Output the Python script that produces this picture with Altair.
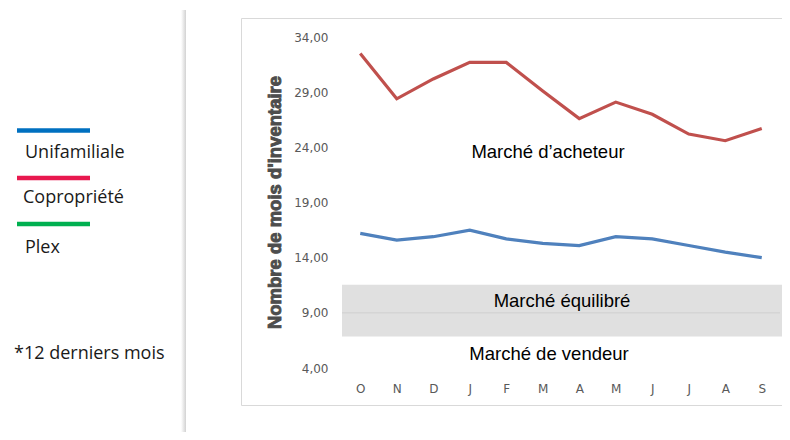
import json
import altair as alt
import pandas as pd

# ---- data ----
MONTHS = ["O", "N", "D", "J", "F", "M", "A", "M", "J", "J", "A", "S"]
UNIFAMILIALE = [16.2, 15.6, 15.9, 16.5, 15.7, 15.3, 15.1, 15.9, 15.7, 15.1, 14.5, 14.0]
COPROPRIETE = [32.5, 28.4, 30.2, 31.7, 31.7, 29.1, 26.6, 28.1, 27.0, 25.2, 24.6, 25.7]
SERIES = ["Unifamiliale", "Copropriété"]
LINE_COLORS = ["#4F81BD", "#C0504D"]
YTICKS = [4, 9, 14, 19, 24, 29, 34]
BAND = [6.85, 11.55]
ANNOTATIONS = ["Marché d’acheteur", "Marché équilibré", "Marché de vendeur"]
ANNOT_Y = [23.55, 10.1, 5.27]
LEGEND_NAMES = ["Unifamiliale", "Copropriété", "Plex"]
LEGEND_COLORS = ["#0070C0", "#E8194F", "#00B050"]
FOOTNOTE = "*12 derniers mois"
Y_TITLE = "Nombre de mois d'inventaire"

rows = []
for s, vals in zip(SERIES, [UNIFAMILIALE, COPROPRIETE]):
    for i, v in enumerate(vals):
        rows.append({"serie": s, "idx": i, "valeur": v})
df = pd.DataFrame(rows)
one = pd.DataFrame({"k": [0]})
band_ticks = pd.DataFrame({"t": [t for t in YTICKS if BAND[0] < t < BAND[1]]})

x_enc = alt.X(
    "idx:O",
    scale=alt.Scale(type="point", padding=0.5),
    axis=alt.Axis(
        title=None,
        labelExpr=json.dumps(MONTHS) + "[datum.value]",
        labelAngle=0,
        ticks=False,
        domain=False,
        grid=False,
        labelFont="DejaVu Sans",
        labelFontSize=12,
        labelColor="#595959",
        labelBaseline="middle",
        labelPadding=20,
    ),
)
y_enc = alt.Y(
    "valeur:Q",
    scale=alt.Scale(domain=[4, 34], nice=False, zero=False),
    axis=alt.Axis(
        values=YTICKS,
        labelExpr="replace(format(datum.value, '.2f'), '.', ',')",
        title=None,
        labelPadding=14,
        ticks=False,
        domain=False,
        gridColor="#d9d9d9",
        labelFont="DejaVu Sans",
        labelFontSize=12,
        labelColor="#595959",
    ),
)

layers = []

# outer chart border
layers.append(
    alt.Chart(one).mark_rect(fill="transparent", stroke="#d9d9d9", strokeWidth=1, clip=False).encode(
        x=alt.value(-100.5), x2=alt.value(470), y=alt.value(-18.5), y2=alt.value(368.5)
    )
)
# vertical shadow separator
layers.append(
    alt.Chart(one).mark_rect(
        clip=False,
        color={
            "gradient": "linear",
            "x1": 0, "x2": 1, "y1": 0, "y2": 0,
            "stops": [
                {"offset": 0, "color": "#ffffff"},
                {"offset": 1, "color": "#d2d2d2"},
            ],
        },
    ).encode(x=alt.value(-161), x2=alt.value(-156), y=alt.value(-27), y2=alt.value(400))
)
# balanced-market band
layers.append(
    alt.Chart(one).mark_rect(color="#e0e0e0", clip=False).encode(
        x=alt.value(0), x2=alt.value(443), y=alt.datum(BAND[1]), y2=alt.datum(BAND[0])
    )
)
# gridline visible inside the band
layers.append(
    alt.Chart(band_ticks).mark_rule(color="#cfcfcf", strokeWidth=1).encode(
        y=alt.Y("t:Q"), x=alt.value(0), x2=alt.value(438)
    )
)
# series lines
layers.append(
    alt.Chart(df).mark_line(strokeWidth=3.2).encode(
        x=x_enc,
        y=y_enc,
        color=alt.Color("serie:N", scale=alt.Scale(domain=SERIES, range=LINE_COLORS), legend=None),
    )
)
# y-axis title (heavy bold)
layers.append(
    alt.Chart(one).mark_text(
        text=Y_TITLE, font="Liberation Sans", fontSize=18.5, fontWeight="bold",
        color="#4d4d4d", stroke="#4d4d4d", strokeWidth=0.9, angle=270,
        align="center", baseline="middle", clip=False,
    ).encode(x=alt.value(-67), y=alt.value(165.5))
)
# annotations
annot_x = [206, 220, 207]
for t, yv, xv in zip(ANNOTATIONS, ANNOT_Y, annot_x):
    layers.append(
        alt.Chart(one).mark_text(
            text=t, font="Liberation Sans", fontSize=18.5, color="#000000",
            align="center", baseline="middle", clip=False,
        ).encode(x=alt.value(xv), y=alt.datum(yv))
    )
# left legend
leg_line_y = [93.5, 141, 187]
leg_text = [(-317, 121), (-319, 166), (-317, 216)]
for name, col, ly, (tx, ty) in zip(LEGEND_NAMES, LEGEND_COLORS, leg_line_y, leg_text):
    layers.append(
        alt.Chart(one).mark_rule(color=col, strokeWidth=4.5, clip=False).encode(
            x=alt.value(-325), x2=alt.value(-252), y=alt.value(ly)
        )
    )
    layers.append(
        alt.Chart(one).mark_text(
            text=name, font="Open Sans", fontSize=18, color="#1a1a1a",
            align="left", baseline="alphabetic", clip=False,
        ).encode(x=alt.value(tx), y=alt.value(ty))
    )
layers.append(
    alt.Chart(one).mark_text(
        text=FOOTNOTE, font="Open Sans", fontSize=18, color="#1a1a1a",
        align="left", baseline="alphabetic", clip=False,
    ).encode(x=alt.value(-328), y=alt.value(322))
)

chart = (
    alt.layer(*layers)
    .properties(
        width=438,
        height=331,
        autosize=alt.AutoSizeParams(type="none"),
        padding={"left": 334, "top": 29, "right": 2, "bottom": 64},
        background="#ffffff",
    )
    .configure_view(strokeWidth=0)
)

chart.save("out.html", embed_options={"renderer": "svg", "actions": False})
